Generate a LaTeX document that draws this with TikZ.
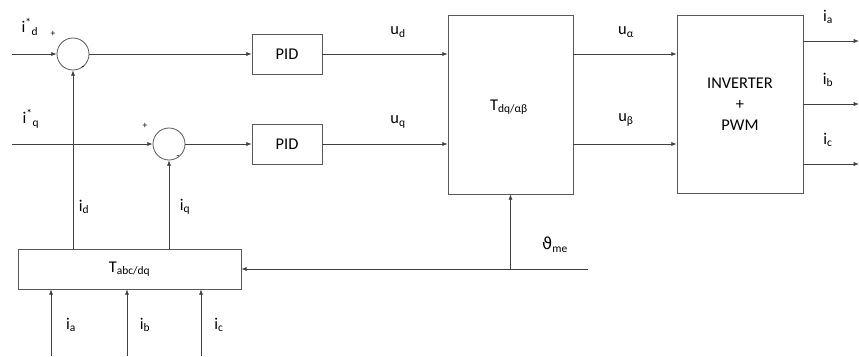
\documentclass[tikz,border=0pt]{standalone}
\usepackage{fontspec}
\setmainfont{Carlito}
\newfontfamily\thetafont{DejaVu Sans}
\usetikzlibrary{arrows.meta}

\tikzset{
  sig/.style={draw=black!75, line width=0.6pt, -{Latex[length=4.5pt,width=3.5pt]}},
  wire/.style={draw=black!75, line width=0.6pt},
  block/.style={draw=black!65, line width=0.7pt, fill=white, inner sep=0pt},
  sumnode/.style={draw=black!65, line width=0.7pt, circle, minimum size=0.96cm, inner sep=0pt},
  lbl/.style={font=\fontsize{14}{16}\selectfont},
  sgn/.style={font=\fontsize{8}{9}\selectfont}
}

\begin{document}
\begin{tikzpicture}[x=0.03cm, y=-0.03cm]
\useasboundingbox (0,0) rectangle (859,356);

% summing points and controllers
\node[sumnode] (sum1) at (73,54) {};
\node[sumnode] (sum2) at (169,144) {};
\node[block, minimum width=2.1cm, minimum height=1.2cm, lbl] (pid1) at (287,54) {PID};
\node[block, minimum width=2.1cm, minimum height=1.2cm, lbl] (pid2) at (287,144) {PID};

% transformations and inverter
\node[block, minimum width=3.75cm, minimum height=5.37cm] (tdq) at (510.5,104.5) {};
\node[lbl] at (509,107) {T\textsubscript{dq/αβ}};
\node[block, minimum width=3.78cm, minimum height=5.34cm, lbl, align=center] (inv) at (740,104)
  {INVERTER\\[2pt]+\\[2pt]PWM};
\node[block, minimum width=6.69cm, minimum height=1.2cm, lbl] (tabc) at (129.5,269) {T\textsubscript{abc/dq}};

% free ends
\coordinate (idin) at (12,54);
\coordinate (iqin) at (12,144);
\coordinate (thin) at (588,269);
\coordinate (iaout) at (859,41);
\coordinate (ibout) at (859,104);
\coordinate (icout) at (859,164);
\coordinate (iain) at (51,356);
\coordinate (ibin) at (127,356);
\coordinate (icin) at (201,356);

% references and errors
\draw[sig] (idin) -- (sum1.west);
\draw[sig] (iqin) -- (sum2.west);
\draw[sig] (sum1.east) -- (pid1.west);
\draw[sig] (sum2.east) -- (pid2.west);

% feedback
\draw[sig] (tabc.north -| sum1.south) -- (sum1.south);
\draw[sig] (tabc.north -| sum2.south) -- (sum2.south);

% voltages
\draw[sig] (pid1.east) -- (pid1.east -| tdq.west);
\draw[sig] (pid2.east) -- (pid2.east -| tdq.west);
\draw[sig] (tdq.east |- pid1.east) -- (inv.west |- pid1.east);
\draw[sig] (tdq.east |- pid2.east) -- (inv.west |- pid2.east);

% phase currents out
\draw[sig] (inv.east |- iaout) -- (iaout);
\draw[sig] (inv.east |- ibout) -- (ibout);
\draw[sig] (inv.east |- icout) -- (icout);

% measured currents in
\draw[sig] (iain) -- (iain |- tabc.south);
\draw[sig] (ibin) -- (ibin |- tabc.south);
\draw[sig] (icin) -- (icin |- tabc.south);

% angle
\draw[sig] (thin) -- (tabc.east);
\draw[sig] (tdq.south |- thin) -- (tdq.south);

% labels
\node[lbl] (lidref) at (30,27) {i\textsuperscript{*}\textsubscript{d}};
\node[lbl] (liqref) at (31,119) {i\textsuperscript{*}\textsubscript{q}};
\node[sgn] (p1) at (53,34) {+};
\node[sgn] (p2) at (145,126) {+};
\node[sgn] (m1) at (83,68) {-};
\node[sgn] (m2) at (178,157) {-};
\node[lbl] (lid) at (84,207) {i\textsubscript{d}};
\node[lbl] (liq) at (185,207) {i\textsubscript{q}};
\node[lbl] (lia) at (71,325) {i\textsubscript{a}};
\node[lbl] (lib) at (145,325) {i\textsubscript{b}};
\node[lbl] (lic) at (219,325) {i\textsubscript{c}};
\node[lbl] (lud) at (398,32) {u\textsubscript{d}};
\node[lbl] (luq) at (398,122) {u\textsubscript{q}};
\node[lbl] (lua) at (626,32) {u\textsubscript{α}};
\node[lbl] (lub) at (626,120) {u\textsubscript{β}};
\node[lbl] (lth) at (555,245) {{\thetafont ϑ}\textsubscript{me}};
\node[lbl] (lia2) at (828,17) {i\textsubscript{a}};
\node[lbl] (lib2) at (828,80) {i\textsubscript{b}};
\node[lbl] (lic2) at (828,140) {i\textsubscript{c}};

\end{tikzpicture}
\end{document}
